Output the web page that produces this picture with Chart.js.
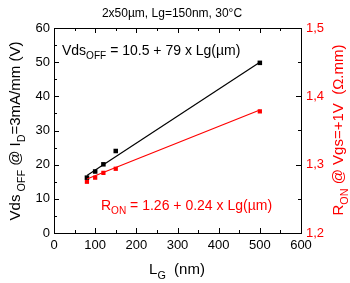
<!DOCTYPE html>
<html>
<head>
<meta charset="utf-8">
<script src="https://cdn.jsdelivr.net/npm/chart.js@4/dist/chart.umd.min.js"></script>
<style>
  html, body { margin: 0; padding: 0; background: #fff; }
  #wrap { width: 350px; height: 283px; }
</style>
</head>
<body>
<div id="wrap"><canvas id="c" width="350" height="283"></canvas></div>
<script>
// ─── DATA ─────────────────────────────────────────────────────────────────────

const lgNm      = [80, 100, 120, 150, 500];
const vdsOff    = [16.2, 18.0, 20.1, 24.0, 49.8];
const rOn       = [1.275, 1.281, 1.288, 1.294, 1.378];

const fitLg     = [80, 500];
const vdsFit    = [16.8, 50];
const rOnFit    = [1.279, 1.38];

const xTicks    = [0, 100, 200, 300, 400, 500, 600];
const yTicks    = [0, 10, 20, 30, 40, 50, 60];
const y1Ticks   = [1.2, 1.3, 1.4, 1.5];

const RED  = '#ff0000';
const FONT = 'Arial, "Liberation Sans", sans-serif';

const pts = (xs, ys) => xs.map((x, i) => ({ x, y: ys[i] }));

// ─── HELPERS ──────────────────────────────────────────────────────────────────

// parts = [text, isSub] pairs
function richWidth(ctx, parts, size) {
  let w = 0;
  for (const [t, sub] of parts) {
    ctx.font = `${sub ? size * 0.72 : size}px ${FONT}`;
    w += ctx.measureText(t).width;
  }
  return w;
}

function drawRich(ctx, parts, x, y, size, color) {
  ctx.fillStyle = color;
  ctx.textBaseline = 'alphabetic';
  ctx.textAlign = 'left';
  for (const [t, sub] of parts) {
    ctx.font = `${sub ? size * 0.72 : size}px ${FONT}`;
    ctx.fillText(t, x, sub ? y + size * 0.28 : y);
    x += ctx.measureText(t).width;
  }
}

function drawRichCentered(ctx, parts, cx, cy, size, color, rot) {
  ctx.save();
  ctx.translate(cx, cy);
  ctx.rotate(rot);
  const w = richWidth(ctx, parts, size);
  drawRich(ctx, parts, -w / 2, size * 0.36, size, color);
  ctx.restore();
}

// ─── PLUGIN: frame, inward ticks, titles ──────────────────────────────────────

const decor = {
  id: 'decor',
  afterDraw(chart) {
    const { ctx, chartArea: a, scales } = chart;
    const sx = scales.x, sy = scales.y, sy1 = scales.y1;

    ctx.save();
    ctx.strokeStyle = '#000';
    ctx.lineWidth = 1;
    ctx.beginPath();
    ctx.moveTo(a.left, a.top + 0.5);
    ctx.lineTo(a.right, a.top + 0.5);
    ctx.stroke();

    const tick = (x1, y1, x2, y2) => { ctx.moveTo(x1, y1); ctx.lineTo(x2, y2); };
    ctx.beginPath();
    for (let v = 0; v <= 600; v += 50) {
      const px = Math.round(sx.getPixelForValue(v)) + 0.5;
      const len = v % 100 === 0 ? 5 : 3;
      tick(px, a.bottom, px, a.bottom - len);
      tick(px, a.top, px, a.top + len);
    }
    for (let v = 0; v <= 60; v += 5) {
      const py = Math.round(sy.getPixelForValue(v)) + 0.5;
      const len = v % 10 === 0 ? 5 : 3;
      tick(a.left, py, a.left + len, py);
    }
    for (let i = 0; i <= 6; i++) {
      const py = Math.round(sy1.getPixelForValue(1.2 + i * 0.05)) + 0.5;
      const len = i % 2 === 0 ? 5 : 3;
      tick(a.right, py, a.right - len, py);
    }
    ctx.stroke();

    // title
    ctx.fillStyle = '#000';
    ctx.font = `12px ${FONT}`;
    ctx.textAlign = 'center';
    ctx.textBaseline = 'alphabetic';
    ctx.fillText('2x50\u00b5m, Lg=150nm, 30\u00b0C', 172, 17);

    // axis titles
    drawRichCentered(ctx, [['L', false], ['G', true], ['  (nm)', false]],
      177, 269, 15, '#000', 0);
    drawRichCentered(ctx, [['Vds', false], [' OFF', true], [' @ I', false], ['D', true], ['=3mA/mm (V)', false]],
      15, 131, 15, '#000', -Math.PI / 2);
    drawRichCentered(ctx, [['R', false], ['ON', true], [' @ Vgs=+1V  (\u03a9.mm)', false]],
      338, 130, 15, RED, -Math.PI / 2);

    // fit equations
    drawRich(ctx, [['Vds', false], ['OFF', true], [' = 10.5 + 79 x Lg(\u00b5m)', false]],
      62, 55, 14, '#000');
    drawRich(ctx, [['R', false], ['ON', true], [' = 1.26 + 0.24 x Lg(\u00b5m)', false]],
      101, 210, 14, RED);
    ctx.restore();
  }
};

// ─── CHART ────────────────────────────────────────────────────────────────────

const tickFont = { family: FONT, size: 13 };

new Chart(document.getElementById('c'), {
  type: 'scatter',
  data: {
    datasets: [
      {
        type: 'line', data: pts(fitLg, vdsFit), yAxisID: 'y',
        borderColor: '#000', borderWidth: 1.2, pointRadius: 0, fill: false,
      },
      {
        type: 'line', data: pts(fitLg, rOnFit), yAxisID: 'y1',
        borderColor: RED, borderWidth: 1.2, pointRadius: 0, fill: false,
      },
      {
        data: pts(lgNm, vdsOff), yAxisID: 'y',
        pointStyle: 'rect', pointRadius: 3.2,
        backgroundColor: '#000', borderColor: '#000', borderWidth: 0,
      },
      {
        data: pts(lgNm, rOn), yAxisID: 'y1',
        pointStyle: 'rect', pointRadius: 3,
        backgroundColor: RED, borderColor: RED, borderWidth: 0,
      },
    ]
  },
  options: {
    responsive: false,
    animation: false,
    layout: { padding: { top: 28, left: 0, right: 0, bottom: 0 } },
    plugins: { legend: { display: false }, tooltip: { enabled: false } },
    scales: {
      x: {
        type: 'linear', min: 0, max: 600,
        afterBuildTicks: s => { s.ticks = xTicks.map(v => ({ value: v })); },
        afterFit: s => { s.height = 50; },
        grid: { display: false, drawTicks: false },
        border: { display: true, color: '#000', width: 1 },
        ticks: { color: '#000', font: tickFont, padding: 5, maxRotation: 0 },
      },
      y: {
        type: 'linear', position: 'left', min: 0, max: 60,
        afterBuildTicks: s => { s.ticks = yTicks.map(v => ({ value: v })); },
        afterFit: s => { s.width = 54; },
        grid: { display: false, drawTicks: false },
        border: { display: true, color: '#000', width: 1 },
        ticks: { color: '#000', font: tickFont, padding: 4 },
      },
      y1: {
        type: 'linear', position: 'right', min: 1.2, max: 1.5,
        afterBuildTicks: s => { s.ticks = y1Ticks.map(v => ({ value: v })); },
        afterFit: s => { s.width = 49; },
        grid: { display: false, drawTicks: false },
        border: { display: true, color: '#000', width: 1 },
        ticks: {
          color: RED, font: tickFont, padding: 5,
          callback: v => v.toFixed(1).replace('.', ','),
        },
      },
    }
  },
  plugins: [decor]
});
</script>
</body>
</html>
